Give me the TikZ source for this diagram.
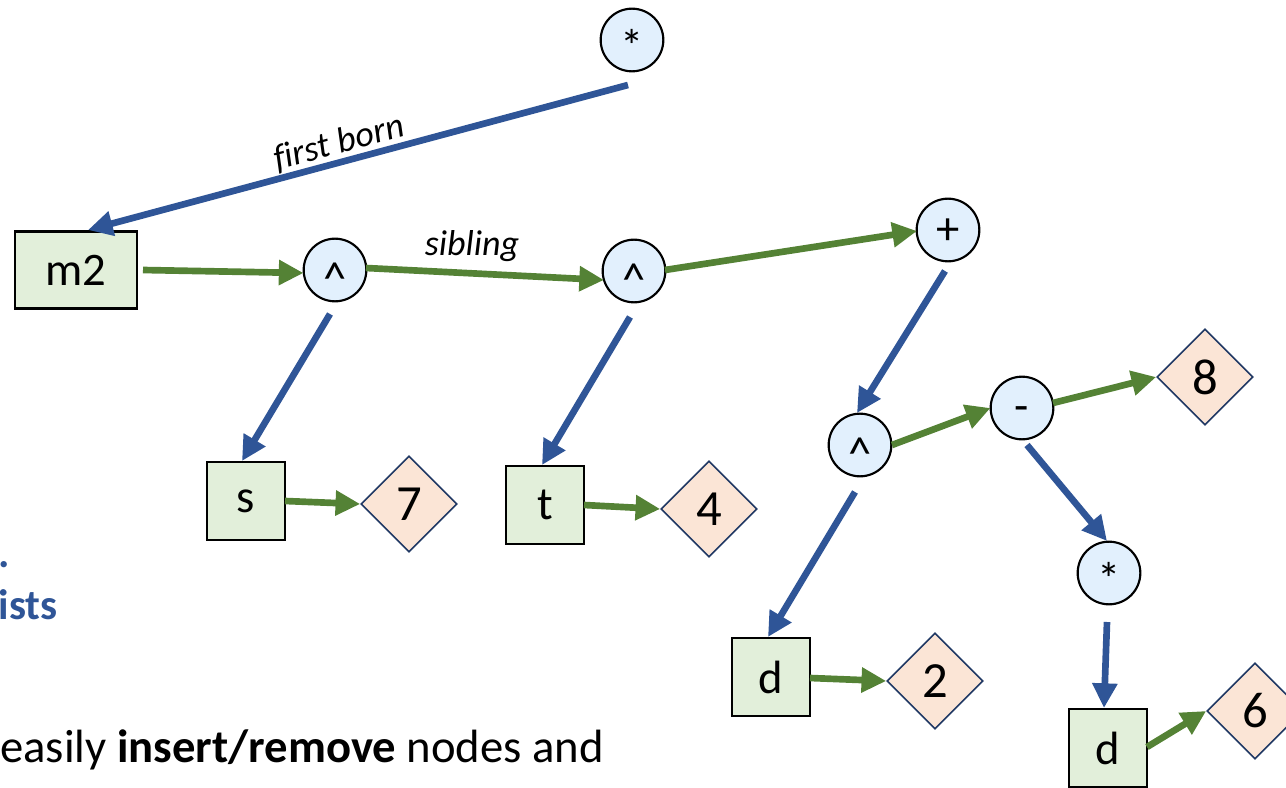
\documentclass[tikz,border=0pt]{standalone}
\usepackage{fontspec}
\setmainfont{Carlito}
\usetikzlibrary{shapes.geometric,arrows.meta}
\definecolor{linkblue}{HTML}{2F5597}
\definecolor{linkgreen}{HTML}{548235}
\definecolor{opfill}{HTML}{E2F0FD}
\definecolor{namefill}{HTML}{E2EFDA}
\definecolor{valfill}{HTML}{FBE5D6}
\definecolor{valedge}{HTML}{203864}
% operator glyph, lowered so that its ink sits on the node centre
\newcommand{\opsym}[2]{\raisebox{-#1em}{#2}}
\begin{document}
\begin{tikzpicture}[x=0.75pt,y=-0.75pt,
  lbl/.style={font=\fontsize{35}{42}\selectfont},
  opnode/.style={circle, draw=black, line width=1.6pt, fill=opfill,
    minimum size=47pt, inner sep=0pt, lbl, text height=0pt, text depth=0pt},
  namebox/.style={rectangle, draw=black, line width=2pt, fill=namefill,
    inner sep=0pt, minimum width=58.5pt, minimum height=58.5pt, lbl},
  valnode/.style={diamond, draw=valedge, line width=1.2pt, fill=valfill,
    minimum width=72pt, minimum height=72pt, inner sep=0pt,
    font=\fontsize{38}{44}\selectfont},
  child/.style={draw=linkblue, line width=5pt, -{Triangle[length=18.5pt,width=18pt]}},
  sib/.style={draw=linkgreen, line width=5pt, -{Triangle[length=18.5pt,width=18pt]}},
  edgelbl/.style={font=\fontsize{27}{32}\selectfont\itshape},
]
\useasboundingbox (0,0) rectangle (1286,788);

% side text of the slide
\node[anchor=base east, inner sep=0pt, font=\fontsize{32}{38}\selectfont\bfseries, text=linkblue] (dot) at (10,567) {.};
\node[anchor=base east, inner sep=0pt, font=\fontsize{32}{38}\selectfont\bfseries, text=linkblue] (ists) at (58,619) {ists};
\node[anchor=base west, inner sep=0pt, font=\fontsize{35}{42}\selectfont] (btm) at (0,762)
  {easily \textbf{insert/remove} nodes and};

% operators
\node[opnode] (top)   at (632,40)  {\opsym{0.49}{*}};
\node[opnode] (c1)    at (335,270) {\opsym{0.52}{\textasciicircum}};
\node[opnode] (c2)    at (634,271) {\opsym{0.52}{\textasciicircum}};
\node[opnode] (plus)  at (948,230) {\opsym{0.32}{+}};
\node[opnode] (c3)    at (860,445) {\opsym{0.52}{\textasciicircum}};
\node[opnode] (minus) at (1022,408){\opsym{0.28}{-}};
\node[opnode] (c4)    at (1109,573){\opsym{0.49}{*}};

% names
\node[namebox, minimum width=91.5pt, minimum height=57.75pt] (m2) at (76,270) {m2};
\node[namebox] (s)  at (246,501) {s};
\node[namebox] (t)  at (545,505) {t};
\node[namebox] (d1) at (771,677) {d};
\node[namebox] (d2) at (1108,748) {d};

% values
\node[valnode] (n7) at (409,504)  {7};
\node[valnode] (n4) at (709,509)  {4};
\node[valnode] (n8) at (1205,377) {8};
\node[valnode] (n2) at (935,681)  {2};
\node[valnode] (n6) at (1255,711) {6};

% first-born links
\draw[child] ([shift={(-4,45)}]top.center) -- ([shift={(12,-40)}]m2.center);
\draw[child] ([shift={(-5,44)}]c1.center) -- ([shift={(-4,-40)}]s.center);
\draw[child] ([shift={(-4,46)}]c2.center) -- ([shift={(-3,-40)}]t.center);
\draw[child] ([shift={(-3,41)}]plus.center) -- ([shift={(-3,-32)}]c3.center);
\draw[child] ([shift={(5,37)}]minus.center) -- ([shift={(-2,-32)}]c4.center);
\draw[child] ([shift={(-5,47)}]c3.center) -- ([shift={(-3,-40)}]d1.center);
\draw[child] ([shift={(-2,49)}]c4.center) -- ([shift={(-4,-40)}]d2.center);

% sibling links
\draw[sib] ([shift={(67,0)}]m2.center) -- ([shift={(-31.5,3)}]c1.center);
\draw[sib] ([shift={(31,-2)}]c1.center) -- ([shift={(-30,9)}]c2.center);
\draw[sib] ([shift={(31,-1)}]c2.center) -- ([shift={(-31,1)}]plus.center);
\draw[sib] ([shift={(32,0)}]c3.center) -- ([shift={(-31.5,0)}]minus.center);
\draw[sib] ([shift={(31,-5)}]minus.center) -- (n8.west);
\draw[sib] ([shift={(39,0)}]s.center) -- (n7.west);
\draw[sib] ([shift={(39,0)}]t.center) -- (n4.west);
\draw[sib] ([shift={(39,1)}]d1.center) -- (n2.west);
\draw[sib] ([shift={(39,-1)}]d2.center) -- (n6.west);

% link labels
\node[edgelbl, rotate=15] (fb) at (339,143) {f\kern0pt irst born};
\node[edgelbl] (sl) at (472,246) {sibling};
\end{tikzpicture}
\end{document}
